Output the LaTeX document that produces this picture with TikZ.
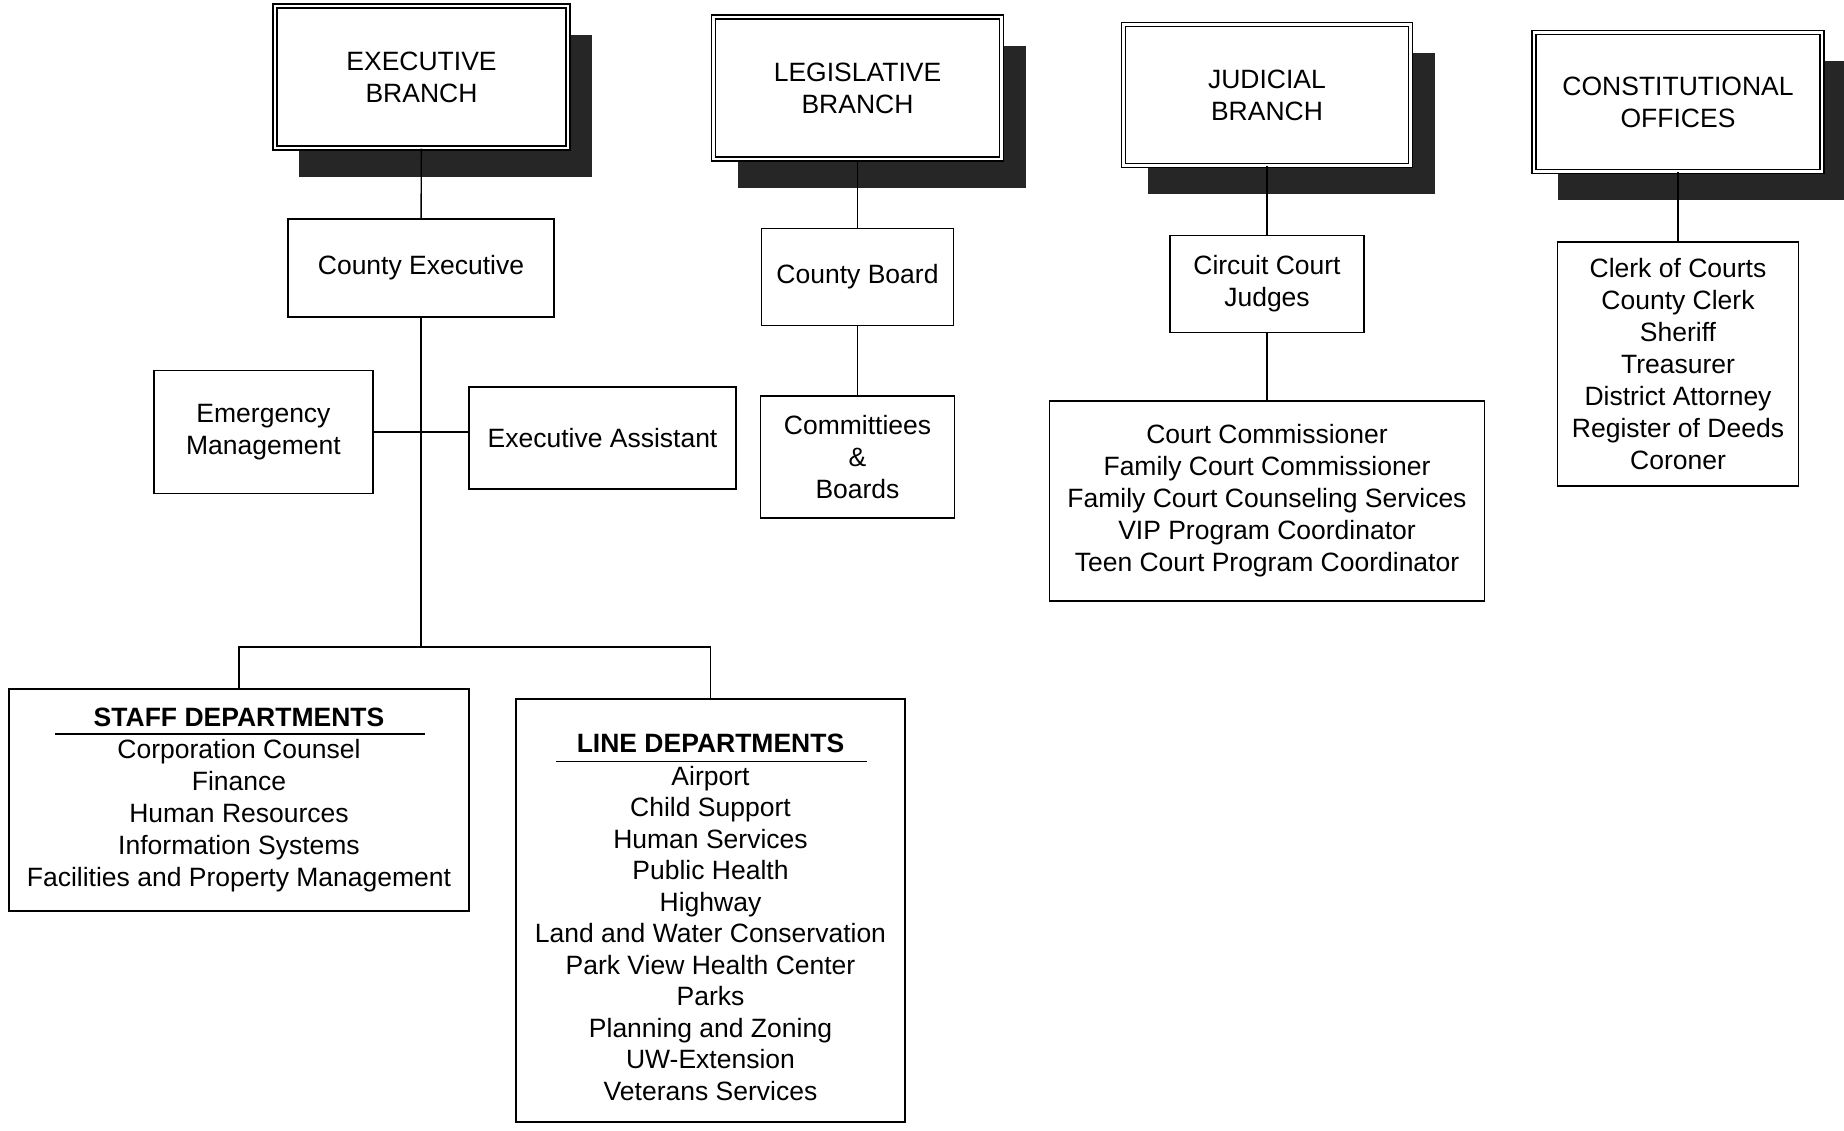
\documentclass[tikz,border=0pt]{standalone}
\usepackage{fontspec}
\setmainfont{Liberation Sans}
\usepackage{tikz}
\usetikzlibrary{shadows,calc}

\tikzset{
  unit/.style={draw, rectangle, line width=1.6pt, align=center, inner sep=0pt,
    font=\fontsize{26.5}{32}\selectfont},
  branch/.style={unit, double, double distance=2.5pt, line width=1.3pt, fill=white,
    drop shadow={shadow xshift=24pt, shadow yshift=-29pt, fill=black!85, opacity=1}},
  link/.style={line width=1.4pt}
}

\begin{document}
\begin{tikzpicture}[x=1pt, y=-1pt]
            \useasboundingbox (0,0) rectangle (1844,1131);
            % Branches
            \node[branch, minimum width=293, minimum height=142] (exec) at (421.5,77) {EXECUTIVE\\BRANCH};
            \node[branch, minimum width=288, minimum height=142] (leg) at (857.5,88) {LEGISLATIVE\\BRANCH};
            \node[branch, minimum width=287, minimum height=141] (jud) at (1267,95) {JUDICIAL\\BRANCH};
            \node[branch, minimum width=288, minimum height=139] (con) at (1678,102) {CONSTITUTIONAL\\OFFICES};
            
            % Executive side
            \node[unit, minimum width=266, minimum height=98] (cexec) at (421,268) {County Executive};
            \node[unit, minimum width=219, minimum height=123] (emerg) at (263.5,432) {Emergency\\Management};
            \node[unit, minimum width=267, minimum height=102] (assist) at (602.5,438) {Executive Assistant};
            \coordinate (split) at (421,647);
            
            % Departments
            \node[unit, minimum width=460, minimum height=222] (staff) at (239,800)
              {\textbf{STAFF DEPARTMENTS}\\[0pt] Corporation Counsel\\Finance\\Human Resources\\Information Systems\\Facilities and Property Management};
            \node[unit, minimum width=389, minimum height=423, font=\fontsize{26.5}{31.5}\selectfont] (linedept) at (710.5,910.5)
              {\rule{0pt}{32pt}\textbf{LINE DEPARTMENTS}\\[1pt] Airport\\Child Support\\Human Services\\Public Health\\Highway\\Land and Water Conservation\\Park View Health Center\\Parks\\Planning and Zoning\\UW-Extension\\Veterans Services};
            \draw[link] ($(staff.center)+(-184,-66)$) -- ++(370,0);
            \draw[link] ($(linedept.center)+(-154.5,-149)$) -- ++(311,0);
            
            % Legislative side
            \node[unit, minimum width=192, minimum height=97] (cboard) at (857.5,277) {County Board};
            \node[unit, minimum width=194, minimum height=122] (comm) at (857.5,457) {Committiees\\\&\\Boards};
            
            % Judicial side
            \node[unit, minimum width=194, minimum height=97] (judges) at (1267,284) {Circuit Court\\Judges};
            \node[unit, minimum width=435, minimum height=200] (courtstaff) at (1267,501)
              {Court Commissioner\\Family Court Commissioner\\Family Court Counseling Services\\VIP Program Coordinator\\Teen Court Program Coordinator};
            
            % Constitutional offices
            \node[unit, minimum width=241, minimum height=244] (offices) at (1678,364)
              {Clerk of Courts\\County Clerk\\Sheriff\\Treasurer\\District Attorney\\Register of Deeds\\Coroner};
            
            % Lines
            \draw[link] (exec) -- (cexec);
            \draw[link] (cexec) -- (split);
            \draw[link] (emerg.east) -- (emerg.east -| assist.west);
            \draw[link] (staff.north) |- (split) -| (linedept.north);
            \draw[link] (leg) -- (cboard);
            \draw[link] (cboard) -- (comm);
            \draw[link] (jud) -- (judges);
            \draw[link] (judges) -- (courtstaff);
            \draw[link] (con) -- (offices);
        \end{tikzpicture}
\end{document}
